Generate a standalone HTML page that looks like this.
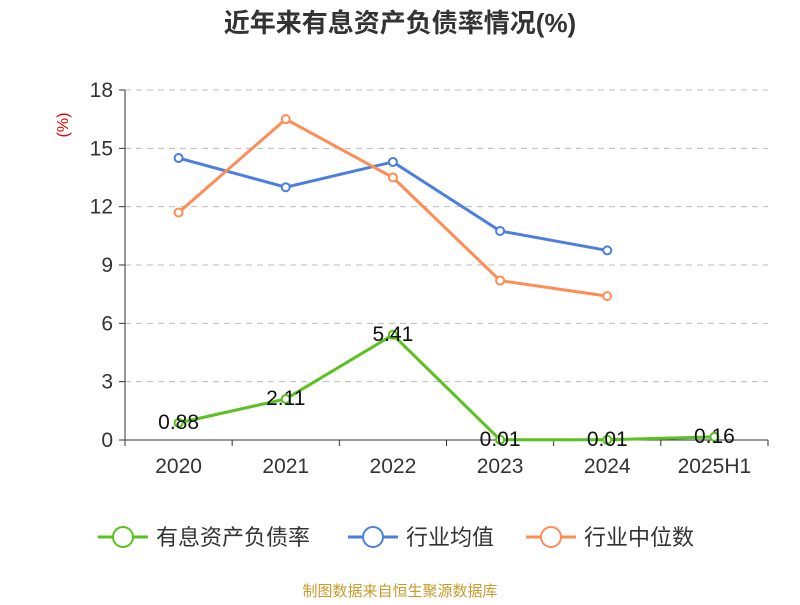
<!DOCTYPE html>
<html><head><meta charset="utf-8"><style>
body{margin:0;background:#fff;}
svg text{font-family:"Liberation Sans","Noto Sans CJK SC",sans-serif;}
</style></head><body>
<svg id="chart" width="800" height="600" xmlns="http://www.w3.org/2000/svg">
<text x="400" y="32" text-anchor="middle" font-size="26" font-weight="bold" fill="#333">近年来有息资产负债率情况(%)</text>
<text transform="translate(68,125) rotate(-90)" text-anchor="middle" font-size="16" fill="#e00000">(%)</text>
<g id="grid"></g><g id="axes"></g><g id="series"></g>
<g id="legend"></g>
<text x="400" y="596" text-anchor="middle" font-size="15" fill="#c89a2a">制图数据来自恒生聚源数据库</text>
</svg>
<script>
const categories=["2020","2021","2022","2023","2024","2025H1"];
const companyValues=[0.88,2.11,5.41,0.01,0.01,0.16];
const industryAvg=[14.5,13.0,14.3,10.75,9.75];
const industryMedian=[11.7,16.5,13.5,8.2,7.4];
const yTicks=[0,3,6,9,12,15,18];
const seriesNames=["有息资产负债率","行业均值","行业中位数"];
const colors=["#5ac21e","#4a7fe0","#ff8c55"];
const NS="http://www.w3.org/2000/svg";
const L=125,R=768,T=90,B=440,yMax=18;
const bw=(R-L)/categories.length;
const xS=i=>L+bw*(i+0.5);
const yS=v=>B-(v/yMax)*(B-T);
function mk(tag,attrs,parent,txt){const e=document.createElementNS(NS,tag);for(const k in attrs)e.setAttribute(k,attrs[k]);if(txt!==undefined)e.textContent=txt;parent.appendChild(e);return e;}
const grid=document.getElementById('grid'),axes=document.getElementById('axes'),ser=document.getElementById('series'),leg=document.getElementById('legend');
yTicks.forEach(t=>{
  if(t>0){const g=mk('line',{x1:L,x2:R,y1:yS(t),y2:yS(t),stroke:'#bbb','stroke-dasharray':'6,5'},grid);
  
  }
  const tk=mk('line',{x1:L-6,x2:L,y1:yS(t),y2:yS(t),stroke:'#333'},axes);
  
  
  const lb=mk('text',{x:L-12,y:yS(t)+7,'text-anchor':'end','font-size':21,fill:'#333'},axes,String(t));
  
  
});
const ya=mk('line',{x1:L,x2:L,y1:T,y2:B,stroke:'#333'},axes);


const xa=mk('line',{x1:L,x2:R,y1:B,y2:B,stroke:'#333'},axes);


for(let i=0;i<=categories.length;i++){const t=mk('line',{x1:L+bw*i,x2:L+bw*i,y1:B,y2:B+6,stroke:'#333'},axes);

}
categories.forEach((c,i)=>{const t=mk('text',{x:xS(i),y:B+33,'text-anchor':'middle','font-size':21,fill:'#333'},axes,c);

});
function drawSeries(vals,color,name,labels){
  const g=mk('g',{},ser);
  
  
  const pts=vals.map((v,i)=>xS(i)+','+yS(v)).join(' ');
  mk('polyline',{points:pts,fill:'none',stroke:color,'stroke-width':3},g);
  vals.forEach((v,i)=>{
    const c=mk('circle',{cx:xS(i),cy:yS(v),r:4,fill:'#fff',stroke:color,'stroke-width':2},g);
    
    
    if(labels){const t=mk('text',{x:xS(i),y:yS(v)+6,'text-anchor':'middle','font-size':21,fill:'#111'},g,v.toFixed(2));
    
    }
  });
}
drawSeries(industryAvg,colors[1],'industry-average-line',false);
drawSeries(industryMedian,colors[2],'industry-median-line',false);
drawSeries(companyValues,colors[0],'company-ratio-line',true);
const legX=[98,348,526];
seriesNames.forEach((n,i)=>{
  const g=mk('g',{},leg);
  
  
  const x=legX[i];
  mk('line',{x1:x,x2:x+50,y1:537,y2:537,stroke:colors[i],'stroke-width':3},g);
  mk('circle',{cx:x+25,cy:537,r:10,fill:'#fff',stroke:colors[i],'stroke-width':2},g);
  mk('text',{x:x+58,y:545,'font-size':22,fill:'#333'},g,n);
});
</script>
</body></html>
